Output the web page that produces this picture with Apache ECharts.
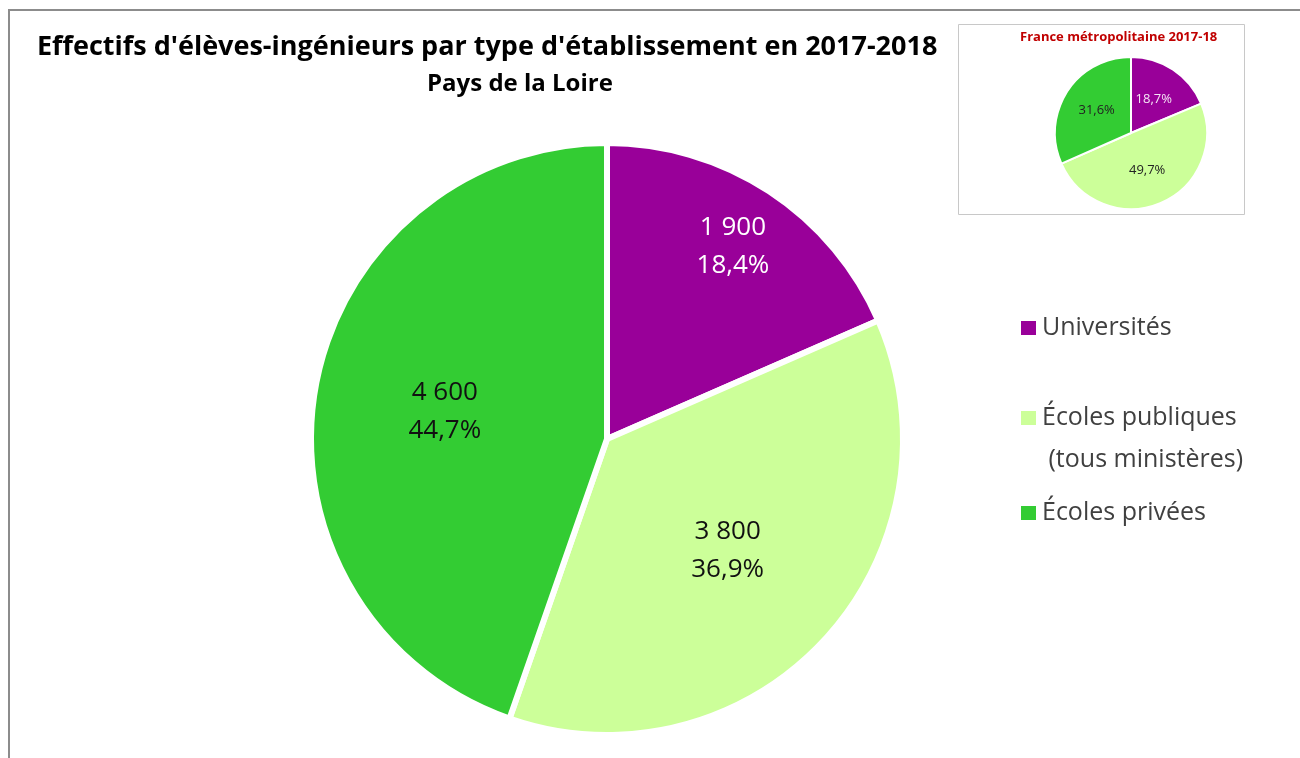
<!DOCTYPE html>
<html>
<head>
<meta charset="utf-8">
<script src="https://cdn.jsdelivr.net/npm/echarts@6/dist/echarts.min.js"></script>
<style>
  html, body { margin: 0; padding: 0; background: #fff; }
  #chart { width: 1300px; height: 758px; }
</style>
</head>
<body>
<div id="chart"></div>
<script>
// Données
const categories = ['Universités', 'Écoles publiques (tous ministères)', 'Écoles privées']
const effectifs = [1900, 3800, 4600]          // Pays de la Loire
const partsFrance = [18.7, 49.7, 31.6]        // France métropolitaine, en %
const colors = ['#990099', '#CCFF99', '#33CC33']
const labelColors = ['#ffffff', '#111111', '#111111']
const insetLabelColors = ['#f5e6f5', '#222222', '#222222']

const FONT = 'Open Sans'

// 1900 -> "1 900"
const fmtNombre = v => String(v).replace(/\B(?=(\d{3})+(?!\d))/g, ' ')
const fmtPct = p => p.toFixed(1).replace('.', ',') + '%'

const mainData = categories.map((name, i) => ({
  name,
  value: effectifs[i],
  itemStyle: { color: colors[i] }
}))

// séries transparentes pour placer les étiquettes à des rayons différents (comme Excel)
const labelData = showIdx => categories.map((name, i) => ({
  name,
  value: effectifs[i],
  label: { show: showIdx.includes(i), color: labelColors[i] }
}))

const insetData = categories.map((name, i) => ({
  name,
  value: partsFrance[i],
  itemStyle: { color: colors[i] },
  label: { color: insetLabelColors[i] }
}))

const legendBase = {
  orient: 'vertical',
  left: 1019,
  padding: 0,
  icon: 'rect',
  itemWidth: 17,
  itemHeight: 16,
  selectedMode: false,
  textStyle: { fontFamily: FONT, fontSize: 25, color: '#404040', lineHeight: 42 }
}

const labelSeries = (radius, showIdx) => ({
  type: 'pie',
  center: [607, 439],
  radius,
  startAngle: 90,
  percentPrecision: 1,
  silent: true,
  itemStyle: { color: 'transparent' },
  label: {
    position: 'inside',
    fontFamily: FONT,
    fontSize: 26,
    lineHeight: 38,
    formatter: p => fmtNombre(p.value) + '\n' + fmtPct(p.percent)
  },
  labelLine: { show: false },
  data: labelData(showIdx)
})

const chart = echarts.init(document.getElementById('chart'), null, { renderer: 'canvas' })
chart.setOption({
  animation: false,
  backgroundColor: '#ffffff',
  title: [
    {
      text: "Effectifs d'élèves-ingénieurs par type d'établissement en 2017-2018",
      left: 32,
      top: 29,
      textStyle: { fontFamily: FONT, fontWeight: 'bold', fontSize: 27, color: '#000' }
    },
    {
      text: 'Pays de la Loire',
      left: 422,
      top: 67,
      textStyle: { fontFamily: FONT, fontWeight: 'bold', fontSize: 24, color: '#000' }
    },
    {
      text: 'France métropolitaine 2017-18',
      left: 1015,
      top: 26,
      textStyle: { fontFamily: FONT, fontWeight: 'bold', fontSize: 13, color: '#C00000' }
    }
  ],
  graphic: [
    {
      type: 'rect',
      z: -10,
      shape: { x: 9, y: 10, width: 1320, height: 780 },
      style: { fill: 'none', stroke: '#8c8c8c', lineWidth: 2 }
    },
    {
      type: 'rect',
      z: -5,
      shape: { x: 958.5, y: 24.5, width: 286, height: 190 },
      style: { fill: '#fff', stroke: '#c8c8c8', lineWidth: 1 }
    }
  ],
  legend: [
    { ...legendBase, top: 307, data: [categories[0]] },
    {
      ...legendBase,
      top: 355,
      data: [categories[1]],
      formatter: () => '\nÉcoles publiques\n (tous ministères)'
    },
    { ...legendBase, top: 492, data: [categories[2]] }
  ],
  series: [
    {
      type: 'pie',
      center: [607, 439],
      radius: [0, 296],
      startAngle: 90,
      silent: true,
      itemStyle: { borderColor: '#fff', borderWidth: 6 },
      label: { show: false },
      labelLine: { show: false },
      data: mainData
    },
    labelSeries([161, 293], [0]),
    labelSeries([30, 293], [1, 2]),
    {
      type: 'pie',
      center: [1131, 133],
      radius: [0, 76],
      startAngle: 90,
      silent: true,
      itemStyle: { borderColor: '#fff', borderWidth: 2 },
      label: {
        position: 'inside',
        fontFamily: FONT,
        fontSize: 13,
        formatter: p => String(p.value).replace('.', ',') + '%'
      },
      labelLine: { show: false },
      data: insetData
    }
  ]
})
</script>
</body>
</html>
